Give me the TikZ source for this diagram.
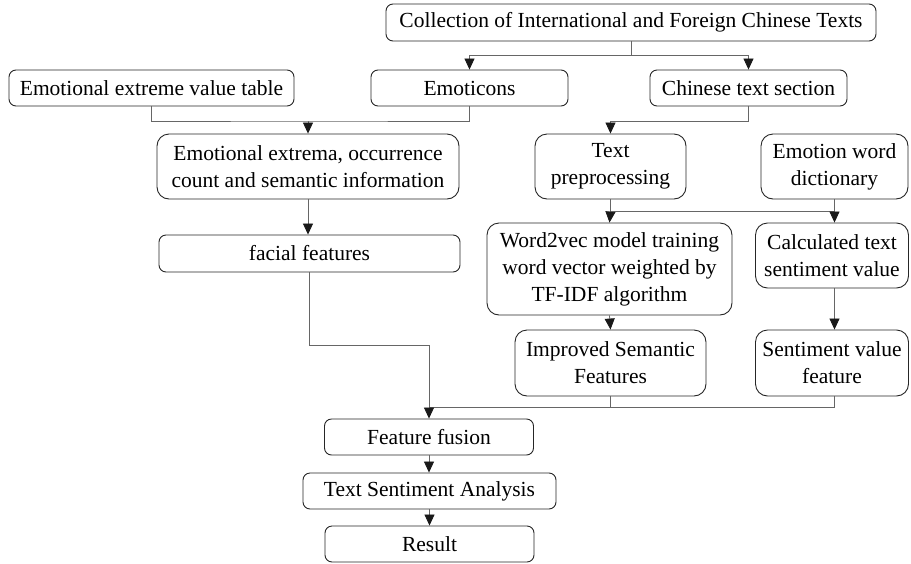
\documentclass[tikz,border=0pt]{standalone}
\usepackage{fontspec}
\setmainfont{Liberation Serif}
\newfontfamily\boxface{Liberation Serif}
\usetikzlibrary{arrows.meta}
\newcommand{\boxfont}{\boxface\fontsize{21.5}{27}\selectfont}
\tikzset{
  box/.style={draw=black!85, line width=0.9pt, rounded corners=7pt, align=center,
    inner sep=0pt, font=\boxfont},
  tallbox/.style={box, rounded corners=12pt},
  link/.style={draw=black!60, line width=0.8pt},
  arr/.style={link, -{Triangle[width=10pt,length=11pt,color=black!90]}},
}
\begin{document}
\begin{tikzpicture}[x=1pt,y=-1pt]
\useasboundingbox (0,0) rectangle (911,563);
% boxes
\node[box, minimum width=490pt, minimum height=37pt] (coll) at (631,22.5) {Collection of International and Foreign Chinese Texts};
\node[box, minimum width=285pt, minimum height=36pt] (tab) at (151.5,88) {Emotional extreme value table};
\node[box, minimum width=197pt, minimum height=36pt] (emo) at (469.5,88) {Emoticons};
\node[box, minimum width=197pt, minimum height=36pt] (chn) at (748.5,88) {Chinese text section};
\node[tallbox, minimum width=302pt, minimum height=65pt] (extr) at (308,166.5) {Emotional extrema, occurrence\\count and semantic information};
\node[tallbox, minimum width=151pt, minimum height=65pt] (pre) at (610.5,166.5) {Text\\preprocessing};
\node[tallbox, minimum width=147pt, minimum height=65pt] (dict) at (834.5,166.5) {Emotion word\\dictionary};
\node[box, minimum width=301pt, minimum height=37pt] (fac) at (309.5,253.5) {facial features};
\node[tallbox, minimum width=245pt, minimum height=92pt] (w2v) at (609.5,269) {Word2vec model training\\word vector weighted by\\TF-IDF algorithm};
\node[tallbox, minimum width=153pt, minimum height=65pt] (calc) at (832,255.5) {Calculated text\\sentiment value};
\node[tallbox, minimum width=191pt, minimum height=66pt] (imp) at (610.5,363) {Improved Semantic\\Features};
\node[tallbox, minimum width=153pt, minimum height=66pt] (sen) at (832,363) {Sentiment value\\feature};
\node[box, minimum width=209pt, minimum height=36pt] (fus) at (429,437) {Feature fusion};
\node[box, minimum width=253pt, minimum height=36pt] (tsa) at (429.5,491) {Text Sentiment Analysis};
\node[box, minimum width=209pt, minimum height=36pt] (res) at (429.5,544) {Result};
% junction points
\coordinate (j1) at (631,55);
\coordinate (j2) at (308,121);
\coordinate (j3) at (610.5,121);
\coordinate (j4) at (610.5,211);
\coordinate (j5) at (429,345);
\coordinate (j6) at (429,407);
% connectors
\draw[link] (coll.south) -- (j1);
\draw[arr] (j1) -| (emo.north);
\draw[arr] (j1) -| (chn.north);
\draw[link] (tab.south) |- (j2) -| (emo.south);
\draw[arr] (j2) -- (extr.north);
\draw[link] (chn.south) |- (j3);
\draw[arr] (j3) -- (pre.north);
\draw[link] (pre.south) -- (j4);
\draw[link] (dict.south) -- (dict.south |- j4);
\draw[arr] (j4) -- (w2v.north);
\draw[arr] (j4) -| (dict.south |- calc.north);
\draw[arr] (extr.south) -- (extr.south |- fac.north);
\draw[arr] (w2v.south) -- (imp.north);
\draw[arr] (dict.south |- calc.south) -- (dict.south |- sen.north);
\draw[link] (fac.south) |- (j5);
\draw[link] (imp.south) -- (imp.south |- j6);
\draw[link] (dict.south |- sen.south) |- (j6);
\draw[arr] (j5) -- (fus.north);
\draw[arr] (fus.south) -- (fus.south |- tsa.north);
\draw[arr] (tsa.south) -- (tsa.south |- res.north);
\end{tikzpicture}
\end{document}
